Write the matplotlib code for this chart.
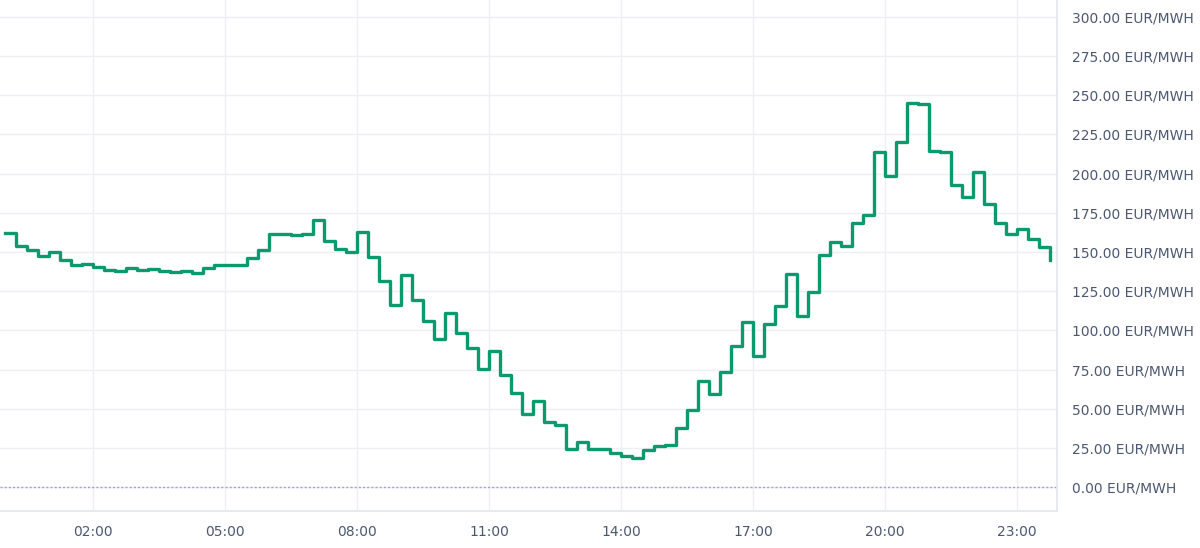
"""Day-ahead 15-minute price curve, step chart in EUR/MWh."""

import matplotlib

matplotlib.use("Agg")
import matplotlib.pyplot as plt
import numpy as np

# quarter-hour prices, 00:00 .. 23:45 (EUR/MWh)
prices = [
    162.0, 153.7, 151.0, 147.3, 150.0, 145.0, 141.6, 142.2,
    140.6, 138.4, 137.6, 140.1, 138.4, 139.0, 137.6, 137.2,
    137.8, 136.3, 139.7, 141.8, 141.4, 142.0, 146.0, 151.0,
    161.4, 161.4, 160.7, 161.4, 170.3, 157.3, 152.0, 150.1,
    163.0, 146.7, 131.2, 116.4, 135.5, 119.3, 106.2, 94.5,
    110.8, 98.3, 89.0, 75.2, 86.8, 71.3, 60.0, 46.6,
    55.0, 41.6, 39.7, 24.2, 28.7, 24.2, 24.6, 21.7,
    19.5, 18.3, 23.8, 26.3, 27.0, 37.4, 49.2, 67.7,
    59.4, 73.5, 89.8, 105.5, 83.4, 104.2, 115.5, 135.7,
    109.1, 124.6, 148.4, 156.3, 153.7, 168.6, 173.9, 213.6,
    198.5, 220.0, 245.4, 244.6, 214.6, 213.8, 192.8, 185.4,
    201.3, 180.9, 168.6, 161.8, 165.0, 158.0, 153.3, 144.8,
]
hours = np.arange(len(prices)) * 0.25
tick_hours = [2, 5, 8, 11, 14, 17, 20, 23]
tick_labels = ["02:00", "05:00", "08:00", "11:00", "14:00", "17:00", "20:00", "23:00"]
price_ticks = np.arange(0, 301, 25)

LINE = "#0b9a6d"
TEXT = "#4c5872"
GRID = "#edeff4"
BORDER = "#e3e6ec"

fig = plt.figure(figsize=(12, 5.48), dpi=100)
ax = fig.add_axes([0.0, 1 - 511 / 548, 1057 / 1200, 511 / 548])

ax.step(hours, prices, where="post", color=LINE, linewidth=2.4, zorder=3)
ax.axhline(0, color="#9fa3d4", linewidth=1.0, linestyle=(0, (1.5, 1.5)), zorder=2)

ax.set_xlim(-5 / 44, 1052 / 44)
ax.set_ylim(-24 / 1.57, 488 / 1.57)
ax.set_xticks(tick_hours, tick_labels)
ax.set_yticks(price_ticks, [f"{v:.2f} EUR/MWH" for v in price_ticks])
ax.yaxis.tick_right()
ax.grid(True, color=GRID, linewidth=1.0, zorder=0)
ax.tick_params(length=0, colors=TEXT, labelsize=10)
ax.tick_params(axis="y", pad=11)
ax.tick_params(axis="x", pad=10)
for side in ("top", "left"):
    ax.spines[side].set_visible(False)
for side in ("right", "bottom"):
    ax.spines[side].set_color(BORDER)
    ax.spines[side].set_linewidth(1.2)

fig.savefig("out.png", dpi=100, facecolor="white")
plt.close(fig)
